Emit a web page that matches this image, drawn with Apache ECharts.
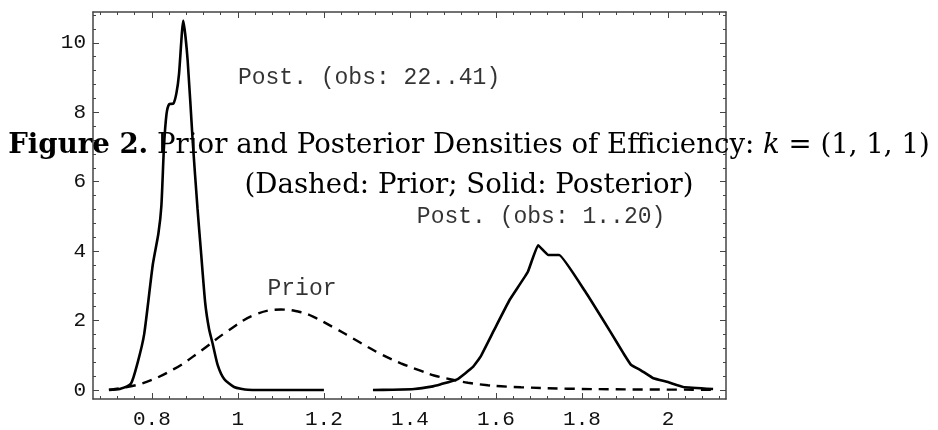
<!DOCTYPE html>
<html>
<head>
<meta charset="utf-8">
<script src="https://cdn.jsdelivr.net/npm/echarts@6/dist/echarts.min.js"></script>
<style>
html, body { margin: 0; padding: 0; background: #fff; }
#chart { width: 938px; height: 430px; }
</style>
</head>
<body>
<div id="chart"></div>
<script>
// curves: [efficiency, density]
var postLate = [ // Post. (obs: 22..41)
	[0.700, 0.00], [0.725, 0.03], [0.751, 0.18], [0.767, 0.80], [0.782, 1.61],
	[0.802, 3.61], [0.815, 4.50], [0.822, 5.30], [0.828, 7.00], [0.834, 7.95],
	[0.840, 8.23], [0.850, 8.25], [0.857, 8.55], [0.863, 9.10], [0.873, 10.64],
	[0.883, 9.51], [0.895, 7.14], [0.906, 5.23], [0.914, 4.00], [0.924, 2.50],
	[0.933, 1.75], [0.941, 1.35], [0.953, 0.72], [0.968, 0.32], [0.991, 0.09],
	[1.023, 0.01], [1.100, 0.00], [1.200, 0.00]
];
var postEarly = [ // Post. (obs: 1..20)
	[1.314, 0.00], [1.360, 0.01], [1.410, 0.03], [1.450, 0.10], [1.472, 0.17],
	[1.510, 0.31], [1.546, 0.66], [1.565, 0.98], [1.595, 1.71], [1.632, 2.60],
	[1.674, 3.40], [1.698, 4.17], [1.722, 3.89], [1.747, 3.89], [1.807, 2.85],
	[1.867, 1.66], [1.897, 1.05], [1.914, 0.73], [1.937, 0.57], [1.966, 0.34],
	[2.000, 0.23], [2.036, 0.09], [2.105, 0.03]
];
var prior = [
	[0.700, 0.01], [0.774, 0.18], [0.852, 0.61], [0.914, 1.13], [0.976, 1.70],
	[1.038, 2.16], [1.100, 2.32], [1.147, 2.24], [1.177, 2.10], [1.223, 1.80],
	[1.256, 1.57], [1.302, 1.24], [1.333, 1.03], [1.379, 0.77], [1.426, 0.55],
	[1.456, 0.42], [1.502, 0.29], [1.535, 0.21], [1.581, 0.14], [1.612, 0.11],
	[1.658, 0.08], [1.767, 0.04], [1.900, 0.02], [2.100, 0.01]
];
var notes = [
	['Post. (obs: 22..41)', 1.305, 9.0],
	['Post. (obs: 1..20)', 1.705, 5.0],
	['Prior', 1.149, 2.91]
];
var xMajor = [0.8, 1, 1.2, 1.4, 1.6, 1.8, 2];
var yMajor = [0, 2, 4, 6, 8, 10];
var xMinor = [], yMinor = [];
for (var i = 0; i < 37; i++) {
	var v = +(0.68 + i * 0.04).toFixed(2);
	if (Math.abs(v * 5 - Math.round(v * 5)) > 1e-6) xMinor.push(v);
}
for (var j = 1; j < 28; j++) {
	var w = +(j * 0.4).toFixed(1);
	if (Math.abs(w / 2 - Math.round(w / 2)) > 1e-6) yMinor.push(w);
}

var xMin = 0.663, xMax = 2.135, yMin = -0.257, yMax = 10.886;
var lineCol = '#444';
var mono = 'Liberation Mono';
var serif = 'DejaVu Serif';

function axisX(pos, vals, len, labels, line) {
	return {
		type: 'value', position: pos, min: xMin, max: xMax,
		axisLine: { show: line, onZero: false, lineStyle: { color: lineCol, width: 1.5 } },
		axisTick: { show: true, inside: true, length: len, customValues: vals, lineStyle: { color: lineCol, width: 1 } },
		axisLabel: labels ? { show: true, customValues: vals, margin: 10, fontFamily: mono, fontSize: 21, color: '#111',
			formatter: function (v) { return String(+v.toFixed(2)); } } : { show: false },
		splitLine: { show: false }
	};
}
function axisY(pos, vals, len, labels, line) {
	return {
		type: 'value', position: pos, min: yMin, max: yMax,
		axisLine: { show: line, onZero: false, lineStyle: { color: lineCol, width: 1.5 } },
		axisTick: { show: true, inside: true, length: len, customValues: vals, lineStyle: { color: lineCol, width: 1 } },
		axisLabel: labels ? { show: true, customValues: vals, margin: 7, fontFamily: mono, fontSize: 21, color: '#111' } : { show: false },
		splitLine: { show: false }
	};
}

var chart = echarts.init(document.getElementById('chart'));
var option = {
	animation: false,
	backgroundColor: '#fff',
	grid: { left: 93, top: 12, right: 212, bottom: 28, containLabel: false },
	title: [{
		text: '{b|Figure 2.} Prior and Posterior Densities of Efficiency: {i|k} = (1, 1, 1)',
		left: 'center', top: 127,
		textStyle: {
			fontFamily: serif, fontSize: 27.6, fontWeight: 'normal', color: '#000',
			rich: {
				b: { fontFamily: serif, fontSize: 27.6, fontWeight: 'bold', color: '#000' },
				i: { fontFamily: serif, fontSize: 27.6, fontStyle: 'italic', color: '#000' }
			}
		}
	}, {
		text: '(Dashed: Prior; Solid: Posterior)',
		left: 'center', top: 167,
		textStyle: { fontFamily: serif, fontSize: 27.6, fontWeight: 'normal', color: '#000' }
	}],
	xAxis: [
		axisX('bottom', xMajor, 6, true, true),
		axisX('bottom', xMinor, 3, false, false),
		axisX('top', xMajor, 6, false, true),
		axisX('top', xMinor, 3, false, false)
	],
	yAxis: [
		axisY('left', yMajor, 6, true, true),
		axisY('left', yMinor, 3, false, false),
		axisY('right', yMajor, 6, false, true),
		axisY('right', yMinor, 3, false, false)
	],
	series: [{
		type: 'line', data: postLate, showSymbol: false, smooth: 0.2,
		lineStyle: { color: '#000', width: 2.6 }, z: 5
	}, {
		type: 'line', data: postEarly, showSymbol: false, smooth: 0.1,
		lineStyle: { color: '#000', width: 2.6 }, z: 5
	}, {
		type: 'line', data: prior, showSymbol: false, smooth: 0.4,
		lineStyle: { color: '#000', width: 2.4, type: [10, 7] }, z: 5
	}, {
		type: 'scatter', symbolSize: 0, silent: true,
		data: notes.map(function (n) { return { name: n[0], value: [n[1], n[2]] }; }),
		label: {
			show: true, position: 'inside', formatter: '{b}',
			fontFamily: mono, fontSize: 23, color: '#000'
		}
	}]
};
chart.setOption(option);
</script>
</body>
</html>
